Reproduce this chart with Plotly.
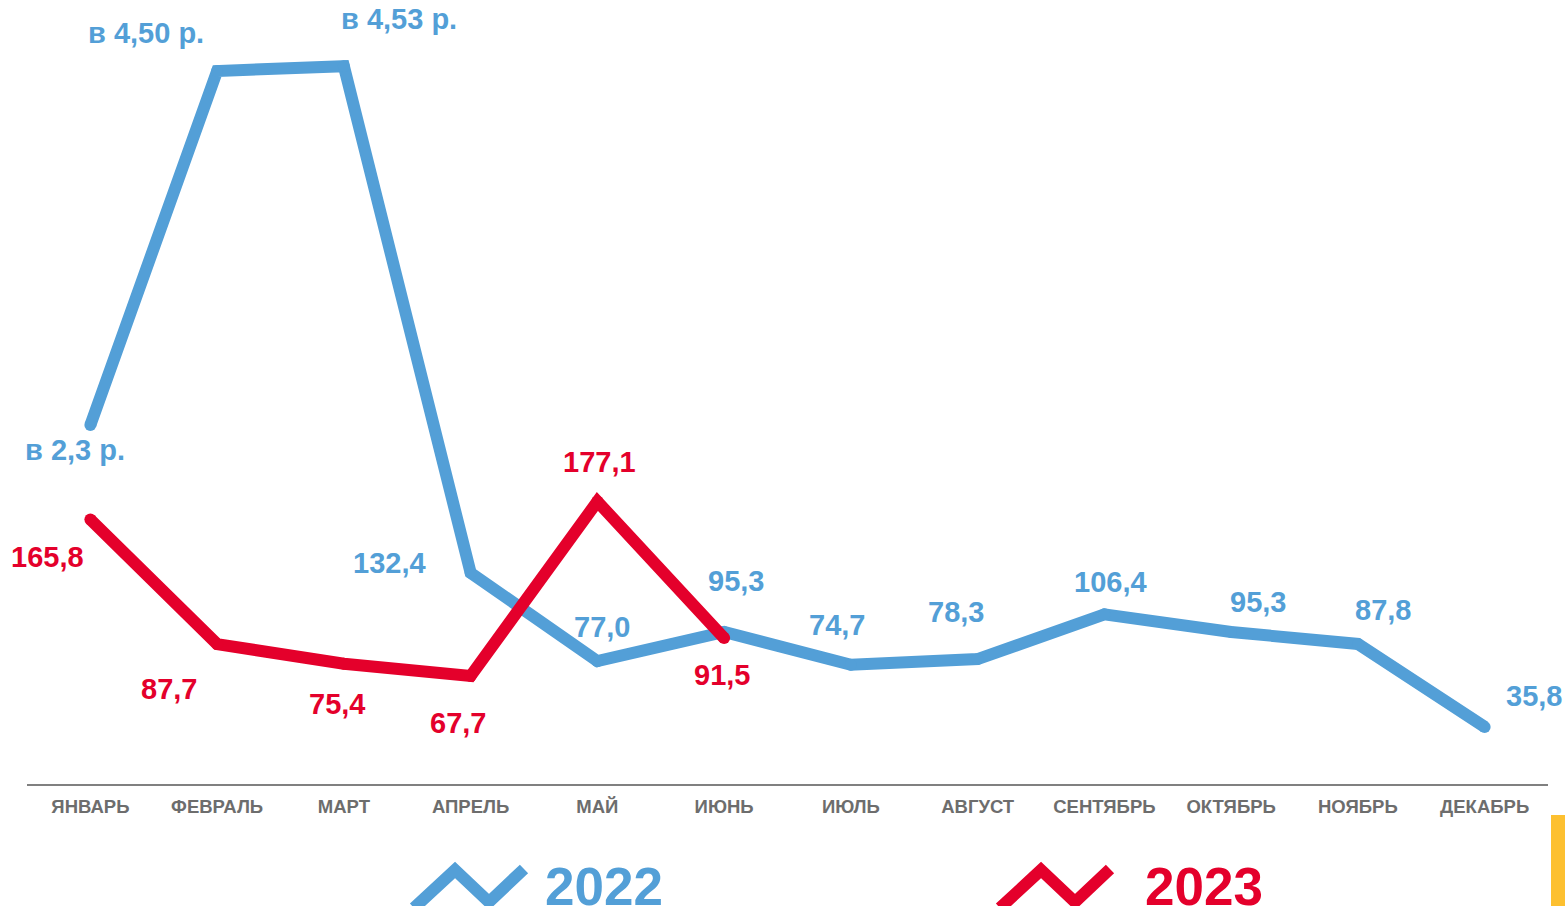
import plotly.graph_objects as go

months = ["ЯНВАРЬ", "ФЕВРАЛЬ", "МАРТ", "АПРЕЛЬ", "МАЙ", "ИЮНЬ",
          "ИЮЛЬ", "АВГУСТ", "СЕНТЯБРЬ", "ОКТЯБРЬ", "НОЯБРЬ", "ДЕКАБРЬ"]
values_2022 = [225, 447, 450, 132.4, 77.0, 95.3, 74.7, 78.3, 106.4, 95.3, 87.8, 35.8]
labels_2022 = ["в 2,3 р.", "в 4,50 р.", "в 4,53 р.", "132,4", "77,0", "95,3",
               "74,7", "78,3", "106,4", "95,3", "87,8", "35,8"]
values_2023 = [165.8, 87.7, 75.4, 67.7, 177.1, 91.5]
labels_2023 = ["165,8", "87,7", "75,4", "67,7", "177,1", "91,5"]
series_names = ["2022", "2023"]

BLUE = "#539FD7"
RED = "#E4002B"
GRAY = "#6D6D6D"
FONT = "Arial, Liberation Sans, sans-serif"

W, H = 1565, 906
ML, MR, MT, MB = 27, 17, 0, 122

# label offsets (pixels) relative to each point: (dx, dy) with dy positive = up
off_2022 = [(-15, -25), (-71, 38), (55, 47), (-81, 10), (5, 34), (12, 51),
            (-14, 40), (-22, 47), (6, 32), (27, 30), (25, 34), (49, 31)]
off_2023 = [(-43, -37), (-48, -45), (-7, -40), (-13, -47), (2, 40), (-2, -37)]

fig = go.Figure()
fig.add_trace(go.Scatter(x=months, y=values_2022, mode="lines+markers", name=series_names[0],
                         line=dict(color=BLUE, width=12),
                         marker=dict(color=BLUE, size=12, line=dict(width=0)),
                         hoverinfo="skip", showlegend=False))
fig.add_trace(go.Scatter(x=months[:len(values_2023)], y=values_2023, mode="lines+markers",
                         name=series_names[1],
                         line=dict(color=RED, width=12),
                         marker=dict(color=RED, size=12, line=dict(width=0)),
                         hoverinfo="skip", showlegend=False))

for m, v, t, (dx, dy) in zip(months, values_2022, labels_2022, off_2022):
    fig.add_annotation(x=m, y=v, text=t, showarrow=False, xshift=dx, yshift=dy,
                       font=dict(family=FONT, size=29, color=BLUE, weight="bold"))
for m, v, t, (dx, dy) in zip(months, values_2023, labels_2023, off_2023):
    fig.add_annotation(x=m, y=v, text=t, showarrow=False, xshift=dx, yshift=dy,
                       font=dict(family=FONT, size=29, color=RED, weight="bold"))

pw, ph = W - ML - MR, H - MT - MB


def px(x):
    return (x - ML) / pw


def py(y):
    return (H - MB - y) / ph


def zigzag(x0, color):
    pts = [(x0, 908), (x0 + 41, 870), (x0 + 75, 902), (x0 + 110, 869)]
    path = "M " + " L ".join(f"{px(a):.5f},{py(b):.5f}" for a, b in pts)
    fig.add_shape(type="path", path=path, xref="paper", yref="paper",
                  line=dict(color=color, width=12))


zigzag(414, BLUE)
zigzag(1000, RED)
fig.add_annotation(x=px(543), y=py(887), xref="paper", yref="paper", text=series_names[0],
                   showarrow=False, xanchor="left", yanchor="middle",
                   font=dict(family=FONT, size=53, color=BLUE, weight="bold"))
fig.add_annotation(x=px(1143), y=py(887), xref="paper", yref="paper", text=series_names[1],
                   showarrow=False, xanchor="left", yanchor="middle",
                   font=dict(family=FONT, size=53, color=RED, weight="bold"))

# yellow decorative bar
fig.add_shape(type="rect", xref="paper", yref="paper", x0=px(1551), x1=px(1566),
              y0=py(815), y1=py(907), fillcolor="#FDC030", line=dict(width=0))

fig.update_layout(
    width=W, height=H, margin=dict(l=ML, r=MR, t=MT, b=MB),
    paper_bgcolor="white", plot_bgcolor="white",
    xaxis=dict(type="category", range=[-0.5, 11.5], showgrid=False, zeroline=False,
               showline=True, linecolor="#808080", linewidth=2, ticks="",
               tickfont=dict(family=FONT, size=18.5, color=GRAY, weight="bold"),
               ticklabelstandoff=5),
    yaxis=dict(range=[0, 491.5], visible=False, showgrid=False, zeroline=False),
)

fig.write_html("out.html", config={"displayModeBar": False},
               post_script="document.body.style.margin='0';document.body.style.overflow='hidden';")
